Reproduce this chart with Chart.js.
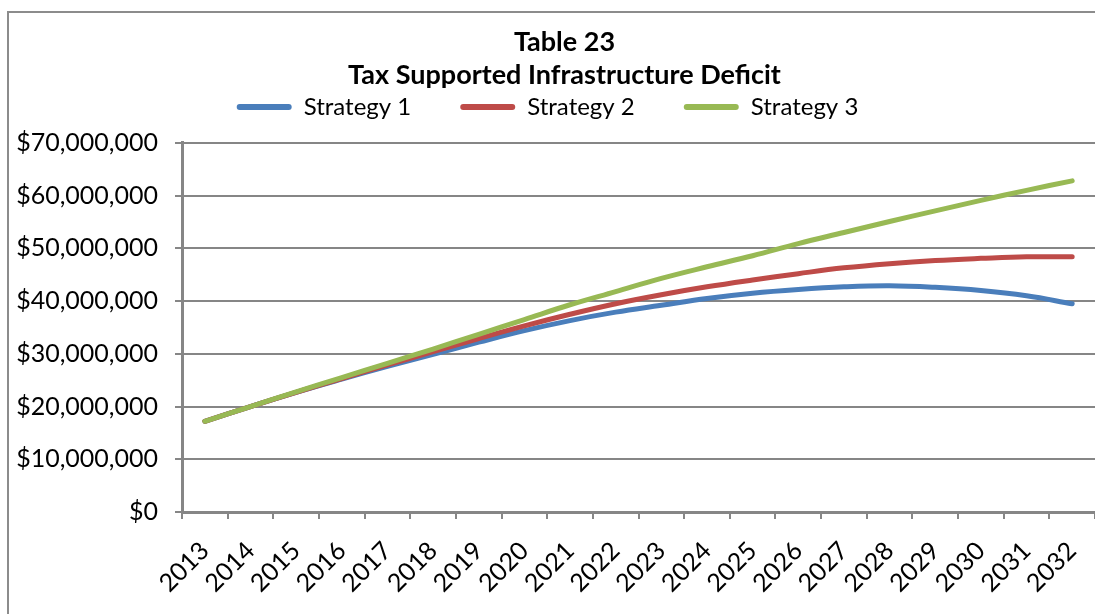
<!DOCTYPE html>
<html>
<head>
<meta charset="utf-8">
<style>
  html, body { margin: 0; padding: 0; background: #fff; overflow: hidden; }
  #wrap { position: relative; width: 1095px; height: 614px; overflow: hidden; }
  canvas { display: block; }
  /* outer frame of the spreadsheet chart; its right and bottom sides are off-window */
  #frame { position: absolute; left: 7px; top: 11px; right: 0; bottom: 0;
           border-left: 2px solid #8c8c8c; border-top: 2px solid #8c8c8c;
           pointer-events: none; }
</style>
<script src="https://cdn.jsdelivr.net/npm/chart.js@4.4.1/dist/chart.umd.min.js"></script>
</head>
<body>
<div id="wrap"><canvas id="chart"></canvas><div id="frame"></div></div>
<script>
const years = ['2013', '2014', '2015', '2016', '2017', '2018', '2019', '2020', '2021', '2022',
  '2023', '2024', '2025', '2026', '2027', '2028', '2029', '2030', '2031', '2032'];

// values, in dollars (millions)
const strategy1 = [17.2, 20.0, 22.7, 25.2, 27.6, 29.9, 32.2, 34.4, 36.3, 37.9,
  39.2, 40.5, 41.5, 42.2, 42.7, 42.9, 42.6, 42.0, 41.0, 39.5];
const strategy2 = [17.2, 20.0, 22.7, 25.3, 27.9, 30.4, 32.9, 35.3, 37.5, 39.5,
  41.2, 42.7, 44.0, 45.2, 46.3, 47.1, 47.7, 48.1, 48.4, 48.4];
const strategy3 = [17.2, 20.0, 22.8, 25.5, 28.2, 30.9, 33.7, 36.5, 39.3, 41.8,
  44.3, 46.5, 48.6, 50.9, 53.0, 55.1, 57.1, 59.1, 61.0, 62.8];

const toDollars = arr => arr.map(v => v * 1000000);

const axisGray = '#868686';
const fontFamily = 'Lato, "Open Sans", sans-serif';

// the frame is wider than the window, so the title sits a little right of centre
const titleShiftPlugin = {
  id: 'titleShift',
  afterLayout(chart) {
    if (chart.titleBlock) chart.titleBlock.left += 34;
  }
};

// empty box between legend and plot, to push the plot down a bit
const spacerPlugin = {
  id: 'spacer',
  beforeInit(chart) {
    const spacer = {
      position: 'top',
      weight: -10,
      fullSize: true,
      options: {},
      isHorizontal() { return true; },
      update(maxWidth) { this.width = maxWidth; this.height = 14; },
      draw() {}
    };
    Chart.layouts.addBox(chart, spacer);
  }
};

function makeLine(label, values, color, order) {
  return {
    label: label,
    data: toDollars(values),
    borderColor: color,
    backgroundColor: color,
    borderWidth: 5,
    borderCapStyle: 'round',
    pointRadius: 0,
    tension: 0.4,
    fill: false,
    order: order
  };
}

const ctx = document.getElementById('chart').getContext('2d');
const chart = new Chart(ctx, {
  type: 'line',
  data: {
    labels: years,
    datasets: [
      makeLine('Strategy 1', strategy1, '#4a7ebb', 3),
      makeLine('Strategy 2', strategy2, '#be4b48', 2),
      makeLine('Strategy 3', strategy3, '#98b954', 1)
    ]
  },
  plugins: [titleShiftPlugin, spacerPlugin],
  options: {
    responsive: true,
    maintainAspectRatio: false,
    animation: false,
    layout: { padding: { left: 0, right: 0, top: 0, bottom: 0 } },
    plugins: {
      title: {
        display: true,
        text: ['Table 23', 'Tax Supported Infrastructure Deficit'],
        color: '#000',
        font: { family: fontFamily, size: 27, weight: 'bold', lineHeight: 1.22 },
        padding: { top: 26, bottom: -46 }
      },
      legend: {
        display: true,
        position: 'top',
        labels: {
          color: '#000',
          font: { family: fontFamily, size: 24 },
          boxWidth: 55,
          boxHeight: 6,
          padding: 49,
          generateLabels(chart) {
            const items = Chart.defaults.plugins.legend.labels.generateLabels(chart);
            items.sort((a, b) => a.datasetIndex - b.datasetIndex);
            return items.map(it => Object.assign(it, { lineWidth: 0, borderRadius: 3 }));
          }
        }
      },
      tooltip: { enabled: false }
    },
    scales: {
      x: {
        type: 'category',
        offset: true,
        afterFit(scale) {
          scale.height = 102;
          scale.paddingLeft = 0;
          scale.paddingRight = 0;
        },
        border: { color: axisGray, width: 3 },
        grid: {
          offset: true,
          drawOnChartArea: false,
          drawTicks: true,
          tickLength: 7,
          color: axisGray,
          lineWidth: 2
        },
        ticks: {
          color: '#000',
          font: { family: fontFamily, size: 25 },
          minRotation: 45,
          maxRotation: 45,
          autoSkip: false,
          padding: 17
        }
      },
      y: {
        min: 0,
        max: 70000000,
        afterFit(scale) { scale.width = 182; },
        border: { color: axisGray, width: 3 },
        grid: {
          color: axisGray,
          lineWidth: 2,
          tickLength: 7
        },
        ticks: {
          stepSize: 10000000,
          color: '#000',
          font: { family: fontFamily, size: 25 },
          padding: 17,
          callback: v => '$' + Number(v).toLocaleString('en-US')
        }
      }
    }
  }
});
</script>
</body>
</html>
